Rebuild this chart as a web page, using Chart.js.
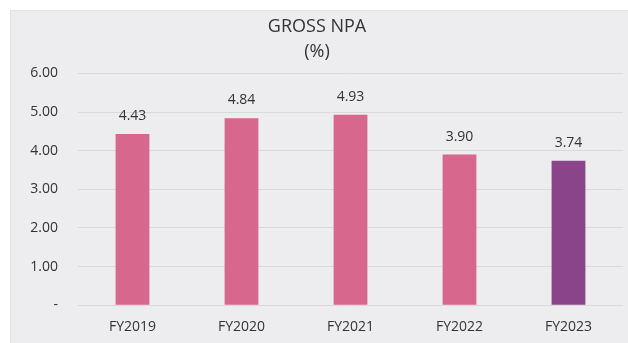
<!DOCTYPE html>
<html>
<head>
<meta charset="utf-8">
<script src="https://cdn.jsdelivr.net/npm/chart.js@4"></script>
<style>
  html, body { margin: 0; padding: 0; background: #fff; }
  body { width: 628px; height: 343px; position: relative; overflow: hidden; }
  #panel {
    position: absolute; left: 10px; top: 10px; width: 618px; height: 333px;
    background: #edecef; border-left: 1px solid #e2e1e4; border-top: 1px solid #e2e1e4;
    box-sizing: border-box;
  }
  #panel canvas { display: block; }
</style>
</head>
<body>
<div id="panel"><canvas id="chart" width="617" height="332"></canvas></div>
<script>
const YEARS = ['FY2019', 'FY2020', 'FY2021', 'FY2022', 'FY2023'];
const GROSS_NPA = [4.43, 4.84, 4.93, 3.90, 3.74];
const Y_TICKS = [0, 1, 2, 3, 4, 5, 6];

const PINK = '#d8678e';
const PURPLE = '#8a4489';
const TEXT = '#333333';
const FONT = '"Open Sans", "Noto Sans", sans-serif';

// last year is highlighted
const barColors = YEARS.map((y, i) => (i === YEARS.length - 1 ? PURPLE : PINK));

// value above each bar
const valueLabels = {
  id: 'valueLabels',
  afterDatasetsDraw: (chart) => {
    let ctx = chart.ctx;
    let meta = chart.getDatasetMeta(0);
    ctx.save();
    ctx.font = '14px ' + FONT;
    ctx.fillStyle = TEXT;
    ctx.textAlign = 'center';
    ctx.textBaseline = 'middle';
    meta.data.forEach((bar, i) => {
      ctx.fillText(GROSS_NPA[i].toFixed(2), bar.x, bar.y - 18);
    });
    ctx.restore();
  },
};

new Chart(document.getElementById('chart'), {
  type: 'bar',
  data: {
    labels: YEARS,
    datasets: [{
      data: GROSS_NPA,
      backgroundColor: barColors,
      categoryPercentage: 1,
      barPercentage: 0.31,
    }],
  },
  options: {
    responsive: false,
    animation: false,
    devicePixelRatio: 1,
    layout: { padding: { left: 0, right: 5, top: 0, bottom: 3 } },
    plugins: {
      legend: { display: false },
      tooltip: { enabled: false },
      title: {
        display: true,
        text: ['GROSS NPA', '(%)'],
        color: TEXT,
        font: { family: FONT, size: 18, weight: 'normal', lineHeight: 1.4 },
        padding: { top: 3, bottom: 9 },
      },
    },
    scales: {
      x: {
        grid: { display: false },
        border: { display: false },
        ticks: { color: TEXT, font: { family: FONT, size: 14 }, padding: 5, maxRotation: 0 },
      },
      y: {
        min: 0,
        max: 6,
        afterBuildTicks: (axis) => {
          axis.ticks = Y_TICKS.map((v) => ({ value: v }));
        },
        afterFit: (axis) => { axis.width = 67; },
        grid: { color: '#d9d9dc', drawTicks: false },
        border: { display: false },
        ticks: {
          color: TEXT,
          font: { family: FONT, size: 14 },
          padding: 20,
          autoSkip: false,
          callback: (v) => (v === 0 ? '-' : v.toFixed(2)),
        },
      },
    },
  },
  plugins: [valueLabels],
});
</script>
</body>
</html>
